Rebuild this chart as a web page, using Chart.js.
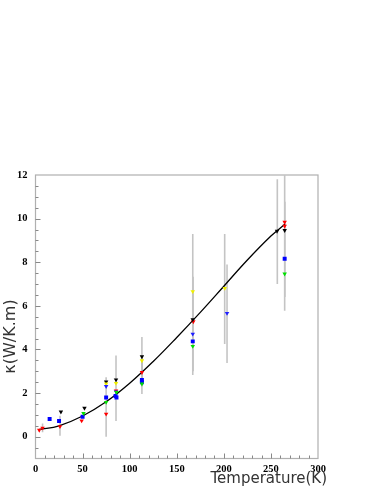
<!DOCTYPE html>
<html>
<head>
<meta charset="utf-8">
<script src="https://cdn.jsdelivr.net/npm/chart.js@4.4.1/dist/chart.umd.min.js"></script>
<style>
  html, body { margin: 0; padding: 0; background: #fff; }
  #wrap { width: 382px; height: 494px; }
</style>
</head>
<body>
<div id="wrap"><canvas id="chartCanvas"></canvas></div>
<script>
// tick labels
const xTicks = [0, 50, 100, 150, 200, 250, 300];
const yTicks = [0, 2, 4, 6, 8, 10, 12];

// measured points (temperature K, conductivity W/K.m)
const redT = [4, 7.5, 26, 49, 75, 85.5, 113, 167.6, 264.6, 264.6];
const redK = [0.3, 0.4, 0.47, 0.73, 1.04, 2.1, 2.95, 5.28, 9.84, 9.66];

const blueSqT = [15, 25, 50, 75, 85, 86, 113, 113, 167, 264.6];
const blueSqK = [0.81, 0.72, 0.91, 1.8, 1.87, 1.8, 2.6, 2.5, 4.37, 8.16];

const blackT = [27, 52, 75, 85.5, 113, 167, 256.5, 264.6];
const blackK = [1.14, 1.31, 2.52, 2.61, 3.67, 5.37, 9.43, 9.46];

const yellowT = [75, 85.5, 113, 167, 201];
const yellowK = [2.43, 2.45, 3.49, 6.66, 6.81];

const blueTriT = [75, 85.5, 167, 203.4];
const blueTriK = [2.31, 2.06, 4.71, 5.66];

const greenT = [51, 75, 86, 113, 167, 264.6];
const greenK = [1.07, 1.58, 2.03, 2.42, 4.15, 7.47];

// error bars: light ones and dark ones
const lightErrT  = [75, 85.5, 113, 167, 200.9, 203.4, 256.8, 264.6, 26, 7.5];
const lightErrLo = [0, 0.72, 1.96, 2.83, 4.25, 3.38, 7.0, 5.78, 0.04, 0.2];
const lightErrHi = [2.73, 3.72, 4.57, 9.3, 9.3, 7.9, 11.8, 12, 0.96, 0.6];

const darkErrT  = [113, 167, 264.6];
const darkErrLo = [2.3, 3.0, 6.4];
const darkErrHi = [3.7, 7.33, 10.77];

// fitted curve
const fitT = [4, 25, 50, 75, 100, 125, 150, 175, 200, 225, 250, 265];
const fitK = [0.33, 0.5, 0.95, 1.6, 2.45, 3.45, 4.55, 5.7, 6.9, 8.1, 9.2, 9.75];

function pts(xs, ys) {
    return xs.map(function(x, i) { return { x: x, y: ys[i] }; });
}

function markers(xs, ys, color, style) {
    return {
        type: 'scatter',
        data: pts(xs, ys),
        pointStyle: style,
        rotation: style === 'triangle' ? 180 : 0,
        pointRadius: style === 'triangle' ? 2.6 : 2.8,
        backgroundColor: color,
        borderColor: color,
        borderWidth: 0,
        order: 1
    };
}

function errBars(xs, lo, hi, color, width) {
    return xs.map(function(x, i) {
        return {
            type: 'line',
            data: [{ x: x, y: lo[i] }, { x: x, y: hi[i] }],
            borderColor: color,
            borderWidth: width,
            pointRadius: 0,
            order: 3
        };
    });
}

let datasets = [];
datasets = datasets.concat(errBars(lightErrT, lightErrLo, lightErrHi, '#c4c4c4', 1.6));
datasets = datasets.concat(errBars(darkErrT, darkErrLo, darkErrHi, '#666666', 1.2));
datasets.push({
    type: 'line',
    data: pts(fitT, fitK),
    borderColor: '#000',
    borderWidth: 1.3,
    pointRadius: 0,
    tension: 0.4,
    order: 2
});
datasets.push(markers(greenT, greenK, '#00e000', 'triangle'));
datasets.push(markers(blueTriT, blueTriK, '#2020ff', 'triangle'));
datasets.push(markers(yellowT, yellowK, '#f0f000', 'triangle'));
datasets.push(markers(blackT, blackK, '#000000', 'triangle'));
datasets.push(markers(blueSqT, blueSqK, '#0000ff', 'rect'));
datasets.push(markers(redT, redK, '#ff0000', 'triangle'));

// frame, inward ticks and axis titles
const framePlugin = {
    id: 'frame',
    beforeDatasetsDraw: function(chart) {
        let ctx = chart.ctx, a = chart.chartArea;
        let xs = chart.scales.x, ys = chart.scales.y;
        ctx.save();
        ctx.strokeStyle = '#b0b0b0';
        ctx.lineWidth = 1.2;
        ctx.strokeRect(a.left, a.top, a.right - a.left, a.bottom - a.top);
        ctx.strokeStyle = '#888';
        ctx.lineWidth = 1;
        ctx.beginPath();
        for (let v = 10; v <= 290; v += 10) {
            let px = Math.round(xs.getPixelForValue(v)) + 0.5;
            let len = (v % 50 === 0) ? 5 : 3;
            ctx.moveTo(px, a.bottom);
            ctx.lineTo(px, a.bottom - len);
        }
        for (let v = -0.5; v <= 11.5; v += 0.5) {
            let py = Math.round(ys.getPixelForValue(v)) + 0.5;
            let len = (v % 2 === 0) ? 5 : 3;
            ctx.moveTo(a.left, py);
            ctx.lineTo(a.left + len, py);
        }
        ctx.stroke();
        ctx.restore();
    },
    afterDraw: function(chart) {
        let ctx = chart.ctx, a = chart.chartArea;
        ctx.save();
        ctx.fillStyle = '#333';
        ctx.font = '15px "DejaVu Sans"';
        ctx.textAlign = 'right';
        ctx.textBaseline = 'middle';
        ctx.fillText('Temperature(K)', a.right + 9, a.bottom + 21);
        ctx.translate(a.left - 25, a.bottom - 122);
        ctx.rotate(-Math.PI / 2);
        ctx.textAlign = 'center';
        ctx.font = '16px "DejaVu Sans"';
        ctx.fillText('κ(W/K.m)', 0, 0);
        ctx.restore();
    }
};

let tickFont = { family: 'Liberation Serif', weight: 'bold', size: 10.5 };

new Chart(document.querySelector('#chartCanvas').getContext('2d'), {
    data: { datasets: datasets },
    options: {
        responsive: true,
        maintainAspectRatio: false,
        animation: false,
        layout: { padding: { top: 175, right: 64, left: 0, bottom: 0 } },
        plugins: {
            legend: { display: false },
            tooltip: { enabled: false }
        },
        scales: {
            x: {
                type: 'linear',
                min: 0,
                max: 300,
                grid: { display: false, drawTicks: false },
                border: { display: false },
                ticks: { font: tickFont, color: '#000', padding: 4, maxRotation: 0, autoSkip: false },
                afterBuildTicks: function(s) { s.ticks = xTicks.map(function(v) { return { value: v }; }); },
                afterFit: function(s) { s.height = 35.5; }
            },
            y: {
                type: 'linear',
                min: -1,
                max: 12,
                grid: { display: false, drawTicks: false },
                border: { display: false },
                ticks: { font: tickFont, color: '#000', padding: 8, autoSkip: false },
                afterBuildTicks: function(s) { s.ticks = yTicks.map(function(v) { return { value: v }; }); },
                afterFit: function(s) { s.width = 35.5; }
            }
        }
    },
    plugins: [framePlugin]
});
</script>
</body>
</html>
